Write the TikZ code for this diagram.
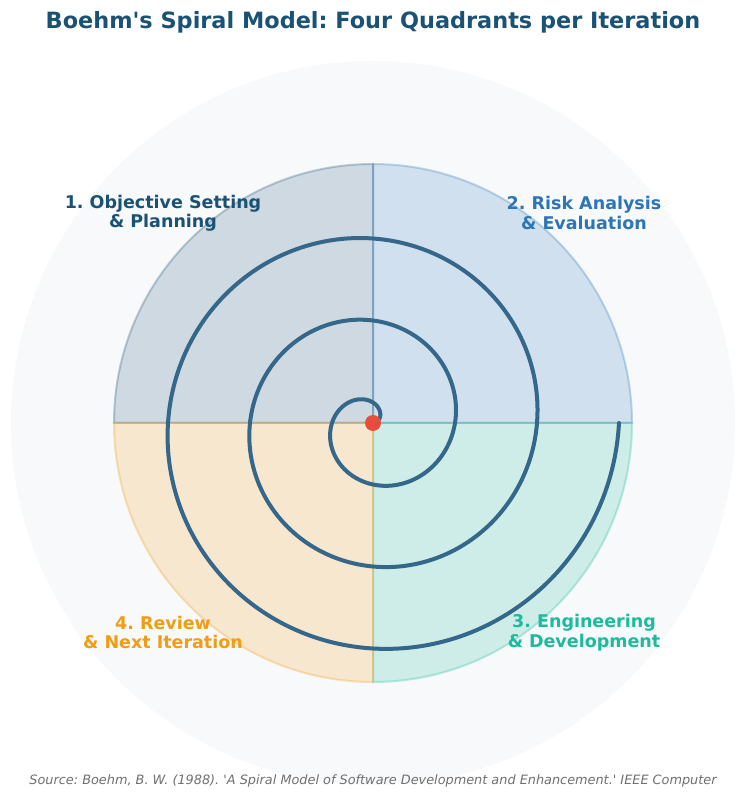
\documentclass[tikz,border=0pt]{standalone}
\usepackage{fontspec}
\setmainfont{DejaVu Sans}[Ligatures=TeXOff]
\definecolor{cA}{HTML}{1A5276}
\definecolor{cB}{HTML}{2E75B6}
\definecolor{cC}{HTML}{1ABC9C}
\definecolor{cD}{HTML}{F39C12}
\definecolor{bgc}{HTML}{F8F9FB}
\definecolor{spiralc}{HTML}{34678A}
\definecolor{dotc}{HTML}{E74C3C}
\definecolor{srcc}{HTML}{707070}
\begin{document}
\frenchspacing
\begin{tikzpicture}[x=1pt,y=1pt,
  wedge/.style={line width=2pt,fill opacity=0.19,draw opacity=0.28},
  qlabel/.style={align=center,font=\fontsize{17.5}{19.5}\selectfont\bfseries,inner sep=0pt}]
\useasboundingbox (-373,-377) rectangle (374,423);
\fill[white] (-373,-377) rectangle (374,423);
\fill[bgc] (0,0) circle (362);
% quadrants
\filldraw[wedge,draw=cA,fill=cA] (0,0) -- (0,259) arc[start angle=90,end angle=180,radius=259] -- cycle;
\filldraw[wedge,draw=cB,fill=cB] (0,0) -- (259,0) arc[start angle=0,end angle=90,radius=259] -- cycle;
\filldraw[wedge,draw=cC,fill=cC] (0,0) -- (0,-259) arc[start angle=270,end angle=360,radius=259] -- cycle;
\filldraw[wedge,draw=cD,fill=cD] (0,0) -- (-259,0) arc[start angle=180,end angle=270,radius=259] -- cycle;
% spiral
\draw[spiralc,line width=4pt,line cap=round] plot[domain=0:1080,samples=500,smooth] ({0.2277778*\x*cos(\x)},{0.2277778*\x*sin(\x)});
\fill[dotc] (0,0) circle (8);
% labels
\node[qlabel,text=cA] (q1) at (-210,210) {1. Objective Setting\\\& Planning};
\node[qlabel,text=cB] (q2) at (211,210) {2. Risk Analysis\\\& Evaluation};
\node[qlabel,text=cC] (q3) at (211,-209.5) {3. Engineering\\\& Development};
\node[qlabel,text=cD] (q4) at (-210,-209.5) {4. Review\\\& Next Iteration};
\node[text=cA,font=\fontsize{22.4}{26}\selectfont\bfseries,inner sep=0pt] (title) at (0,401) {Boehm's Spiral Model: Four Quadrants per Iteration};
\node[text=srcc,font=\fontsize{12.85}{15}\selectfont\itshape,inner sep=0pt] (src) at (0,-358) {Source: Boehm, B. W. (1988). 'A Spiral Model of Software Development and Enhancement.' IEEE Computer};
\end{tikzpicture}
\end{document}
